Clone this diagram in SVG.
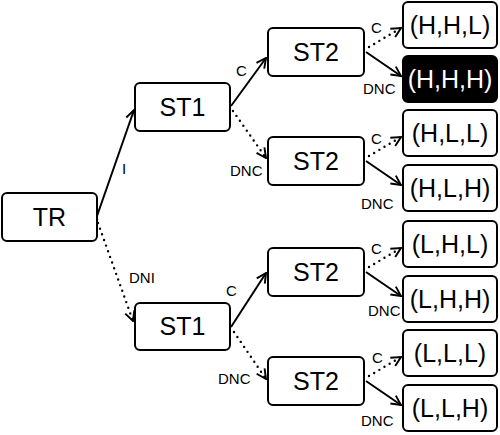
<svg xmlns="http://www.w3.org/2000/svg" width="500" height="435" viewBox="0 0 500 435">
<defs>
<marker id="arr" markerUnits="userSpaceOnUse" markerWidth="12" markerHeight="12" viewBox="0 0 10 10" refX="9" refY="5" orient="auto">
<path d="M1,1 L9,5 L1,9" fill="none" stroke="#000" stroke-width="1.6" stroke-linejoin="miter"/>
</marker>
</defs>
<style>
.box{fill:#fff;stroke:#000;stroke-width:2}
.dark{fill:#000;stroke:#000;stroke-width:2}
.t{font-family:"Liberation Sans",Arial,sans-serif;font-size:25px;text-anchor:middle;fill:#000}
.tw{fill:#fff}
.lbl{font-family:"Liberation Sans",Arial,sans-serif;font-size:15px;fill:#000}
.solid{stroke:#000;stroke-width:2;fill:none;marker-end:url(#arr)}
.dot{stroke:#000;stroke-width:2.4;fill:none;stroke-dasharray:0 6;stroke-linecap:round;marker-end:url(#arr)}
</style>
<rect width="500" height="435" fill="#fff"/>
<g id="connectors">
<line class="solid" x1="97" y1="216" x2="134" y2="110"/>
<line class="dot" x1="98" y1="223" x2="133" y2="321"/>
<line class="solid" x1="231" y1="106" x2="266" y2="58"/>
<line class="dot" x1="233" y1="111" x2="266" y2="158"/>
<line class="solid" x1="231" y1="327" x2="266" y2="273"/>
<line class="dot" x1="234" y1="332" x2="266" y2="379"/>
<line class="dot" x1="369" y1="47" x2="401" y2="28"/>
<line class="solid" x1="366" y1="52" x2="401" y2="76"/>
<line class="dot" x1="369" y1="156" x2="401" y2="137"/>
<line class="solid" x1="366" y1="161" x2="401" y2="185"/>
<line class="dot" x1="369" y1="267" x2="401" y2="248"/>
<line class="solid" x1="366" y1="272" x2="401" y2="296"/>
<line class="dot" x1="369" y1="376" x2="401" y2="357"/>
<line class="solid" x1="366" y1="381" x2="401" y2="405"/>
<text class="lbl" x="122" y="174">I</text>
<text class="lbl" x="129" y="283">DNI</text>
<text class="lbl" x="236" y="76">C</text>
<text class="lbl" x="230" y="176">DNC</text>
<text class="lbl" x="226" y="296">C</text>
<text class="lbl" x="218" y="384">DNC</text>
<text class="lbl" x="371" y="33">C</text>
<text class="lbl" x="363" y="94">DNC</text>
<text class="lbl" x="371" y="144">C</text>
<text class="lbl" x="361" y="209">DNC</text>
<text class="lbl" x="371" y="254">C</text>
<text class="lbl" x="368" y="316">DNC</text>
<text class="lbl" x="372" y="363">C</text>
<text class="lbl" x="361" y="426">DNC</text>
</g>
<g id="TR"><rect class="box" x="2" y="193" width="95" height="48" rx="5"/><text class="t" x="49.5" y="226">TR</text></g>
<g id="ST1a"><rect class="box" x="135" y="83" width="95" height="48" rx="5"/><text class="t" x="182.5" y="116">ST1</text></g>
<g id="ST1b"><rect class="box" x="135" y="303" width="95" height="47" rx="5"/><text class="t" x="182.5" y="335">ST1</text></g>
<g id="ST2a"><rect class="box" x="268" y="28" width="96" height="48" rx="5"/><text class="t" x="316" y="61">ST2</text></g>
<g id="ST2b"><rect class="box" x="268" y="137" width="96" height="48" rx="5"/><text class="t" x="316" y="170">ST2</text></g>
<g id="ST2c"><rect class="box" x="268" y="248" width="96" height="48" rx="5"/><text class="t" x="316" y="281">ST2</text></g>
<g id="ST2d"><rect class="box" x="268" y="357" width="96" height="48" rx="5"/><text class="t" x="316" y="390">ST2</text></g>
<g id="HHL"><rect class="box" x="403" y="2" width="94" height="46" rx="5"/><text class="t" x="450" y="34">(H,H,L)</text></g>
<g id="HHH"><rect class="dark" x="403" y="56" width="94" height="46" rx="5"/><text class="t tw" x="450" y="88">(H,H,H)</text></g>
<g id="HLL"><rect class="box" x="403" y="110" width="94" height="46" rx="5"/><text class="t" x="450" y="142">(H,L,L)</text></g>
<g id="HLH"><rect class="box" x="403" y="165" width="94" height="46" rx="5"/><text class="t" x="450" y="197">(H,L,H)</text></g>
<g id="LHL"><rect class="box" x="403" y="221" width="94" height="46" rx="5"/><text class="t" x="450" y="253">(L,H,L)</text></g>
<g id="LHH"><rect class="box" x="403" y="276" width="94" height="46" rx="5"/><text class="t" x="450" y="308">(L,H,H)</text></g>
<g id="LLL"><rect class="box" x="403" y="330" width="94" height="46" rx="5"/><text class="t" x="450" y="362">(L,L,L)</text></g>
<g id="LLH"><rect class="box" x="403" y="385" width="94" height="46" rx="5"/><text class="t" x="450" y="417">(L,L,H)</text></g>
</svg>
